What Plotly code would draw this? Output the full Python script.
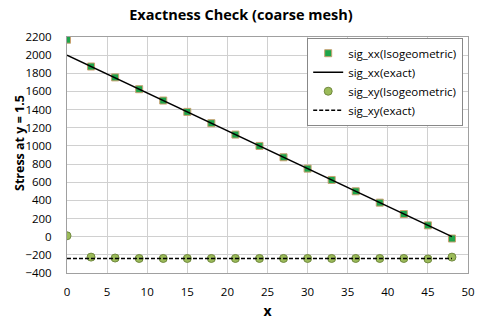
import plotly.graph_objects as go

x_vals = [0, 3, 6, 9, 12, 15, 18, 21, 24, 27, 30, 33, 36, 39, 42, 45, 48]
sig_xx_iso = [2170, 1875, 1755, 1625, 1500, 1375, 1250, 1125, 1000, 875, 750, 625, 500, 375, 250, 125, -20]
sig_xx_exact = [2000, 1875, 1750, 1625, 1500, 1375, 1250, 1125, 1000, 875, 750, 625, 500, 375, 250, 125, 0]
sig_xy_iso = [10, -225, -235, -240, -240, -240, -240, -240, -240, -240, -240, -240, -240, -240, -240, -245, -225]
sig_xy_exact = [-240] * 17

font = "Open Sans"
fig = go.Figure()
fig.add_trace(go.Scatter(x=x_vals, y=sig_xx_iso, mode="markers", name="sig_xx(Isogeometric)",
                         marker=dict(symbol="square", size=7, color="#1ea54a",
                                     line=dict(color="#c8a070", width=1))))
fig.add_trace(go.Scatter(x=x_vals, y=sig_xx_exact, mode="lines", name="sig_xx(exact)",
                         line=dict(color="black", width=1.5)))
fig.add_trace(go.Scatter(x=x_vals, y=sig_xy_iso, mode="markers", name="sig_xy(Isogeometric)",
                         marker=dict(symbol="circle", size=8, color="#9bbb59",
                                     line=dict(color="#71893f", width=1))))
fig.add_trace(go.Scatter(x=x_vals, y=sig_xy_exact, mode="lines", name="sig_xy(exact)",
                         line=dict(color="black", width=1.5, dash="4px,2px")))

fig.update_layout(
    width=482, height=324,
    margin=dict(l=67, r=14, t=37, b=51),
    paper_bgcolor="white", plot_bgcolor="white",
    font=dict(family=font, size=11.5, color="black"),
    title=dict(text="<b>Exactness Check (coarse mesh)</b>", x=0.5, xanchor="center",
               y=0.953, yanchor="middle", font=dict(size=14.5, family=font)),
    xaxis=dict(range=[0, 50], dtick=5, showgrid=True, gridcolor="#d0d0d0", gridwidth=1,
               showline=True, linecolor="#a0a0a0", mirror=True, zeroline=False,
               ticks="", ticklabelstandoff=8, automargin=False,
               title=dict(text="<b>x</b>", font=dict(size=14), standoff=8)),
    yaxis=dict(range=[-400, 2200], dtick=200, showgrid=True, gridcolor="#d0d0d0", gridwidth=1,
               showline=True, linecolor="#a0a0a0", mirror=True, zeroline=False,
               ticks="", ticklabelstandoff=12, automargin=False),
    legend=dict(x=0.988, y=0.997, xanchor="right", yanchor="top",
                bgcolor="white", bordercolor="#888888", borderwidth=1,
                font=dict(size=11.5), tracegroupgap=0, itemwidth=30),
    annotations=[dict(text="<b>Stress at y = 1.5</b>", xref="paper", yref="paper",
                      x=-0.1185, y=0.553, xanchor="center", yanchor="middle",
                      textangle=-90, showarrow=False, font=dict(size=12.5))],
)
fig.write_html("out.html")
